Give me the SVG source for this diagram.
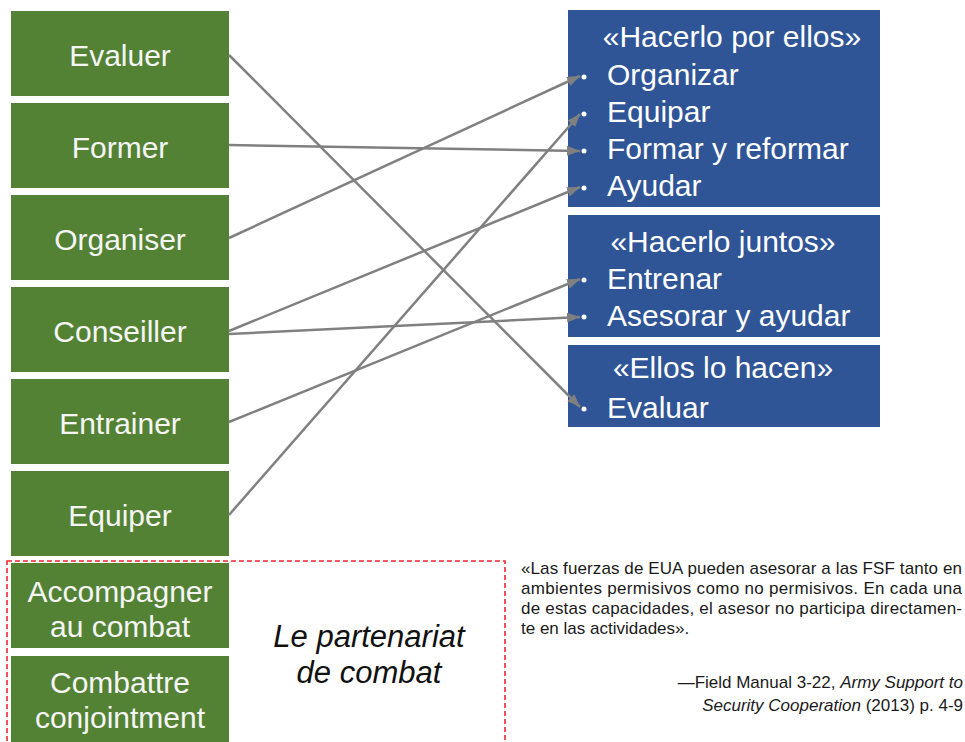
<svg xmlns="http://www.w3.org/2000/svg" width="965" height="742" viewBox="0 0 965 742">
<style>
.g{fill:#548235}
.b{fill:#2F5597}
.gt{font-family:"Liberation Sans",Arial,sans-serif;font-size:30px;fill:#F5F5F5;text-anchor:middle}
.bt{font-family:"Liberation Sans",Arial,sans-serif;font-size:30px;fill:#FFFFFF}
.hd{text-anchor:middle}
.dot{fill:#FFFFFF}
.c{fill:none;stroke:#808080;stroke-width:2.5}
.q{font-family:"Liberation Sans",Arial,sans-serif;font-size:17px;fill:#1A1A1A}
.it{font-style:italic}
.pt{font-family:"Liberation Sans",Arial,sans-serif;font-size:31px;font-style:italic;fill:#111111;text-anchor:middle}
</style>
<defs>
<marker id="ah" markerUnits="userSpaceOnUse" markerWidth="14" markerHeight="10" refX="13" refY="5" orient="auto">
<path d="M0,0 L13,5 L0,10 Z" fill="#808080"/>
</marker>
</defs>
<rect width="965" height="742" fill="#FFFFFF"/>

<g id="evaluer"><rect class="g" x="11" y="11" width="218" height="85"/><text class="gt" x="120" y="66">Evaluer</text></g>
<g id="former"><rect class="g" x="11" y="103" width="218" height="85"/><text class="gt" x="120" y="158">Former</text></g>
<g id="organiser"><rect class="g" x="11" y="195" width="218" height="85"/><text class="gt" x="120" y="250">Organiser</text></g>
<g id="conseiller"><rect class="g" x="11" y="287" width="218" height="85"/><text class="gt" x="120" y="342">Conseiller</text></g>
<g id="entrainer"><rect class="g" x="11" y="379" width="218" height="85"/><text class="gt" x="120" y="434">Entrainer</text></g>
<g id="equiper"><rect class="g" x="11" y="471" width="218" height="85"/><text class="gt" x="120" y="526">Equiper</text></g>
<g id="accompagner"><rect class="g" x="11" y="563" width="218" height="85"/><text class="gt" x="120" y="602">Accompagner</text><text class="gt" x="120" y="637">au combat</text></g>
<g id="combattre"><rect class="g" x="11" y="656" width="218" height="90"/><text class="gt" x="120" y="693">Combattre</text><text class="gt" x="120" y="728">conjointment</text></g>

<g id="partenariat">
<rect x="7" y="561" width="498" height="200" fill="none" stroke="#F0282E" stroke-width="1.6" stroke-dasharray="5,3"/>
<text class="pt" x="369" y="647">Le partenariat</text>
<text class="pt" x="369" y="683">de combat</text>
</g>

<g id="por-ellos">
<rect class="b" x="568" y="10" width="312" height="197"/>
<text class="bt hd" x="732" y="47">«Hacerlo por ellos»</text>
<circle class="dot" cx="584" cy="77" r="2.5"/><text class="bt" x="607" y="85">Organizar</text>
<circle class="dot" cx="584" cy="114" r="2.5"/><text class="bt" x="607" y="122">Equipar</text>
<circle class="dot" cx="584" cy="151" r="2.5"/><text class="bt" x="607" y="159">Formar y reformar</text>
<circle class="dot" cx="584" cy="188" r="2.5"/><text class="bt" x="607" y="196">Ayudar</text>
</g>
<g id="juntos">
<rect class="b" x="568" y="215" width="312" height="122"/>
<text class="bt hd" x="723" y="252">«Hacerlo juntos»</text>
<circle class="dot" cx="584" cy="280" r="2.5"/><text class="bt" x="607" y="289">Entrenar</text>
<circle class="dot" cx="584" cy="317" r="2.5"/><text class="bt" x="607" y="326">Asesorar y ayudar</text>
</g>
<g id="ellos-hacen">
<rect class="b" x="568" y="345" width="312" height="82"/>
<text class="bt hd" x="723" y="378">«Ellos lo hacen»</text>
<circle class="dot" cx="584" cy="409" r="2.5"/><text class="bt" x="607" y="418">Evaluar</text>
</g>

<g id="connectors">
<line class="c" x1="229" y1="55" x2="580" y2="407" marker-end="url(#ah)"/>
<line class="c" x1="229" y1="145" x2="580" y2="151" marker-end="url(#ah)"/>
<line class="c" x1="229" y1="238" x2="580" y2="76" marker-end="url(#ah)"/>
<line class="c" x1="229" y1="331" x2="580" y2="187" marker-end="url(#ah)"/>
<line class="c" x1="229" y1="334" x2="580" y2="317" marker-end="url(#ah)"/>
<line class="c" x1="229" y1="422" x2="580" y2="279" marker-end="url(#ah)"/>
<line class="c" x1="229" y1="515" x2="580" y2="114" marker-end="url(#ah)"/>
</g>

<g id="quote">
<text class="q" x="521" y="574" textLength="441" lengthAdjust="spacing">«Las fuerzas de EUA pueden asesorar a las FSF tanto en</text>
<text class="q" x="521" y="594" textLength="441" lengthAdjust="spacing">ambientes permisivos como no permisivos. En cada una</text>
<text class="q" x="521" y="614" textLength="441" lengthAdjust="spacing">de estas capacidades, el asesor no participa directamen-</text>
<text class="q" x="521" y="634">te en las actividades».</text>
<text class="q" x="963" y="688" text-anchor="end">—Field Manual 3-22, <tspan class="it">Army Support to</tspan></text>
<text class="q" x="963" y="711" text-anchor="end"><tspan class="it">Security Cooperation</tspan> (2013) p. 4-9</text>
</g>
</svg>
